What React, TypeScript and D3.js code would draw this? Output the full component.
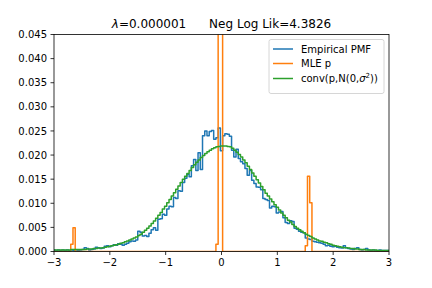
import * as d3 from 'd3'

// grid of the pmf: -3 .. 3, step 0.04 (151 points)
const xStart = -3
const xStep = 0.04

const empirical = [
  0.0003, 0.0002, 0.0003, 0.0002, 0.0003, 0.0002, 0.0003, 0.0002, 0.0003, 0.0002,
  0.0003, 0.0002, 0.0003, 0.0004, 0.0008, 0.0006, 0.0003, 0.0004, 0.0005, 0.0009,
  0.0008, 0.0006, 0.0007, 0.0011, 0.0012, 0.0010, 0.0012, 0.0014, 0.0013, 0.0016,
  0.0015, 0.0013, 0.0015, 0.0017, 0.0020, 0.0022, 0.0021, 0.0024, 0.0042, 0.0040,
  0.0032, 0.0033, 0.0031, 0.0038, 0.0045, 0.0049, 0.0044, 0.0067, 0.0068, 0.0077,
  0.0075, 0.0088, 0.0094, 0.0093, 0.0112, 0.0110, 0.0126, 0.0125, 0.0143, 0.0152,
  0.0160, 0.0155, 0.0178, 0.0191, 0.0168, 0.0205, 0.0170, 0.0240, 0.0250, 0.0240,
  0.0249, 0.0251, 0.0233, 0.0236, 0.0256, 0.0209, 0.0240, 0.0244, 0.0243, 0.0239,
  0.0210, 0.0196, 0.0212, 0.0193, 0.0186, 0.0182, 0.0172, 0.0158, 0.0168, 0.0148,
  0.0141, 0.0134, 0.0133, 0.0128, 0.0110, 0.0108, 0.0106, 0.0090, 0.0094, 0.0093,
  0.0080, 0.0082, 0.0083, 0.0070, 0.0060, 0.0058, 0.0064, 0.0062, 0.0048, 0.0046,
  0.0042, 0.0040, 0.0039, 0.0028, 0.0026, 0.0025, 0.0021, 0.0020, 0.0019, 0.0018,
  0.0017, 0.0015, 0.0012, 0.0013, 0.0011, 0.0010, 0.0011, 0.0009, 0.0008, 0.0007,
  0.0012, 0.0008, 0.0006, 0.0005, 0.0004, 0.0006, 0.0008, 0.0004, 0.0003, 0.0004,
  0.0006, 0.0003, 0.0002, 0.0003, 0.0002, 0.0002, 0.0003, 0.0002, 0.0002, 0.0002,
  0.0002,
]

const mleP = [
  0, 0, 0, 0, 0, 0, 0, 0, 0.0015, 0.0049,
  0, 0, 0, 0, 0, 0, 0, 0, 0, 0,
  0, 0, 0, 0, 0, 0, 0, 0, 0, 0,
  0, 0, 0, 0, 0, 0, 0, 0, 0, 0,
  0, 0, 0, 0, 0, 0, 0, 0, 0, 0,
  0, 0, 0, 0, 0, 0, 0, 0, 0, 0,
  0, 0, 0, 0, 0, 0, 0, 0, 0, 0,
  0, 0, 0, 0.0015, 0.48, 0.47, 0, 0, 0, 0,
  0, 0, 0, 0, 0, 0, 0, 0, 0, 0,
  0, 0, 0, 0, 0, 0, 0, 0, 0, 0,
  0, 0, 0, 0, 0, 0, 0, 0, 0, 0,
  0, 0, 0, 0.0012, 0.0156, 0.0101, 0, 0, 0, 0,
  0, 0, 0, 0, 0, 0, 0, 0, 0, 0,
  0, 0, 0, 0, 0, 0, 0, 0, 0, 0,
  0, 0, 0, 0, 0, 0, 0, 0, 0, 0,
  0,
]

const convP = [
  0.0003, 0.0003, 0.0003, 0.0003, 0.0003, 0.0003, 0.0003, 0.0003, 0.0004, 0.0004,
  0.0004, 0.0004, 0.0004, 0.0004, 0.0004, 0.0005, 0.0005, 0.0005, 0.0006, 0.0006,
  0.0007, 0.0007, 0.0008, 0.0009, 0.0010, 0.0011, 0.0012, 0.0013, 0.0014, 0.0015,
  0.0017, 0.0018, 0.0020, 0.0022, 0.0024, 0.0026, 0.0028, 0.0030, 0.0033, 0.0036,
  0.0040, 0.0044, 0.0048, 0.0053, 0.0058, 0.0063, 0.0069, 0.0075, 0.0081, 0.0088,
  0.0094, 0.0101, 0.0108, 0.0115, 0.0122, 0.0129, 0.0136, 0.0143, 0.0150, 0.0156,
  0.0162, 0.0168, 0.0174, 0.0180, 0.0185, 0.0190, 0.0195, 0.0199, 0.0203, 0.0207,
  0.0210, 0.0213, 0.0215, 0.0217, 0.0218, 0.0219, 0.0219, 0.0219, 0.0218, 0.0217,
  0.0214, 0.0210, 0.0206, 0.0201, 0.0196, 0.0190, 0.0184, 0.0177, 0.0170, 0.0163,
  0.0156, 0.0149, 0.0142, 0.0135, 0.0128, 0.0121, 0.0115, 0.0109, 0.0103, 0.0097,
  0.0092, 0.0086, 0.0080, 0.0075, 0.0070, 0.0065, 0.0061, 0.0056, 0.0052, 0.0048,
  0.0045, 0.0042, 0.0039, 0.0036, 0.0033, 0.0031, 0.0028, 0.0026, 0.0024, 0.0022,
  0.0021, 0.0019, 0.0018, 0.0016, 0.0015, 0.0013, 0.0012, 0.0011, 0.0010, 0.0009,
  0.0008, 0.0008, 0.0007, 0.0006, 0.0006, 0.0005, 0.0005, 0.0004, 0.0004, 0.0004,
  0.0003, 0.0003, 0.0003, 0.0003, 0.0003, 0.0002, 0.0002, 0.0002, 0.0002, 0.0002,
  0.0002,
]

const xTicks = [-3, -2, -1, 0, 1, 2, 3]
const xTickLabels = ['\u22123', '\u22122', '\u22121', '0', '1', '2', '3']
const yTicks = [0, 0.005, 0.01, 0.015, 0.02, 0.025, 0.03, 0.035, 0.04, 0.045]
const yTickLabels = ['0.000', '0.005', '0.010', '0.015', '0.020', '0.025', '0.030', '0.035', '0.040', '0.045']

const series = [
  { name: 'Empirical PMF', values: empirical, color: '#1f77b4' },
  { name: 'MLE p', values: mleP, color: '#ff7f0e' },
  { name: 'conv', values: convP, color: '#2ca02c' },
]

const W = 432
const H = 288
const left = 54
const right = 389
const top = 34.5
const bottom = 251.5
const font = 'DejaVu Sans, sans-serif'

const App = () => {
  const x = d3.scaleLinear().domain([-3, 3]).range([left, right])
  const y = d3.scaleLinear().domain([0, 0.045]).range([bottom, top])

  const line = d3.line<number>()
    .x((d, i) => x(xStart + i * xStep))
    .y(d => y(d))
    .curve(d3.curveStep)

  // legend geometry
  const lgX = 269
  const lgY = 39.5
  const lgW = 384 - lgX
  const lgH = 54
  const rows = [49, 63.5, 78.5]

  return (
    <svg width={W} height={H} style={{ position: 'absolute', left: 0, top: 0, background: '#fff' }}
      fontFamily={font}>
      <defs>
        <clipPath id="plot">
          <rect x={left} y={top} width={right - left} height={bottom - top} />
        </clipPath>
      </defs>
      <rect x={0} y={0} width={W} height={H} fill="#fff" />

      <g clipPath="url(#plot)">
        {series.map(s => (
          <path key={s.name} d={line(s.values) || ''} fill="none" stroke={s.color}
            strokeWidth={1.5} strokeLinejoin="round" />
        ))}
      </g>

      {/* spines */}
      <rect x={left} y={top} width={right - left} height={bottom - top} fill="none" stroke="#000" strokeWidth={0.8} />

      {/* x axis */}
      {xTicks.map((t, i) => (
        <g key={'x' + t}>
          <line x1={x(t)} x2={x(t)} y1={bottom} y2={bottom + 3.5} stroke="#000" strokeWidth={0.8} />
          <text x={x(t)} y={bottom + 7} dy="0.76em" textAnchor="middle" fontSize={10}>{xTickLabels[i]}</text>
        </g>
      ))}

      {/* y axis */}
      {yTicks.map((t, i) => (
        <g key={'y' + t}>
          <line x1={left - 3.5} x2={left} y1={y(t)} y2={y(t)} stroke="#000" strokeWidth={0.8} />
          <text x={left - 7} y={y(t)} dy="0.36em" textAnchor="end" fontSize={10}>{yTickLabels[i]}</text>
        </g>
      ))}

      {/* title */}
      <text x={(left + right) / 2} y={top - 6.5} textAnchor="middle" fontSize={12} style={{ whiteSpace: 'pre' }}>
        <tspan fontStyle="italic">λ</tspan>
        <tspan>{'=0.000001      Neg Log Lik=4.3826'}</tspan>
      </text>

      {/* legend */}
      <rect x={lgX} y={lgY} width={lgW} height={lgH} rx={2} fill="#fff" fillOpacity={0.8} stroke="#cccccc" strokeWidth={0.8} />
      {series.map((s, i) => (
        <g key={'lg' + s.name}>
          <line x1={lgX + 4} x2={lgX + 24} y1={rows[i]} y2={rows[i]} stroke={s.color} strokeWidth={1.5} />
          <text x={lgX + 32} y={rows[i]} dy="0.36em" fontSize={10}>
            {i < 2 ? s.name : (
              <>
                <tspan>conv(p,N(0,</tspan>
                <tspan fontStyle="italic">σ</tspan>
                <tspan fontSize={7} dy="-4">2</tspan>
                <tspan dy="4">))</tspan>
              </>
            )}
          </text>
        </g>
      ))}
    </svg>
  )
}

export default App
